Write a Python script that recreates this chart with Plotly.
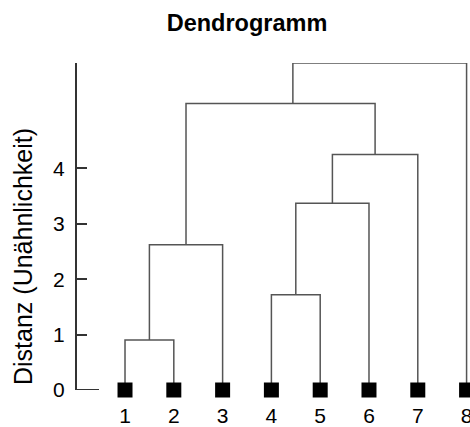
import plotly.graph_objects as go

# Leaves (order on x axis)
leaf_labels = ["1", "2", "3", "4", "5", "6", "7", "8"]
leaf_pos = [1, 2, 3, 4, 5, 6, 7, 8]

# Merges: (left node, right node, height); nodes 0-7 are leaves, 8+ are clusters
merge_left = [0, 3, 8, 9, 11, 10, 13]
merge_right = [1, 4, 2, 5, 6, 12, 7]
merge_height = [0.9, 1.72, 2.62, 3.37, 4.25, 5.17, 5.9]
# horizontal position of each cluster's stem
cluster_pos = [1.5, 4.5, 2.25, 5.25, 6.125, 4.44, 6.2]

y_ticks = [0, 1, 2, 3, 4]
y_title = "Distanz (Unähnlichkeit)"

LINK = "#555555"
AXIS = "#333333"
FONT = "Liberation Sans, Arial, Helvetica, sans-serif"

node_x = list(leaf_pos) + list(cluster_pos)
node_h = [0.0] * len(leaf_pos) + list(merge_height)

fig = go.Figure()
for l, r, h in zip(merge_left, merge_right, merge_height):
    fig.add_trace(go.Scatter(
        x=[node_x[l], node_x[l], node_x[r], node_x[r]],
        y=[node_h[l], h, h, node_h[r]],
        mode="lines", line=dict(color=LINK, width=1.5),
        hoverinfo="skip", showlegend=False, cliponaxis=False))

fig.add_trace(go.Scatter(
    x=leaf_pos, y=[0] * len(leaf_pos), mode="markers",
    marker=dict(symbol="square", size=15, color="black", line=dict(width=0)),
    showlegend=False, cliponaxis=False))

W, H = 470, 427
L, T, B = 77, 63, 37
PW, PH = W - L, H - T - B
fig.update_layout(
    width=W, height=H,
    margin=dict(l=L, r=0, t=T, b=B, autoexpand=False),
    paper_bgcolor="white", plot_bgcolor="white",
    font=dict(family=FONT, size=21, color="black"),
    title=dict(text="<b>Dendrogramm</b>", font=dict(size=23.5, family=FONT, color="black"),
               x=247 / W, xref="container", xanchor="center",
               y=1 - 23 / H, yref="container", yanchor="middle"),
    xaxis=dict(range=[0.016, 8.07], tickvals=leaf_pos, ticktext=leaf_labels,
               showgrid=False, zeroline=False, showline=False, ticks="",
               ticklabelstandoff=11, ticklabeloverflow="allow",
               tickfont=dict(size=21), fixedrange=True),
    yaxis=dict(range=[0, 5.9], tickvals=y_ticks, ticktext=[str(v) for v in y_ticks],
               showgrid=False, zeroline=False, showline=True, linecolor=AXIS,
               linewidth=2, ticks="inside", ticklen=10, tickwidth=1.5, tickcolor=AXIS,
               ticklabelstandoff=6, tickfont=dict(size=21), fixedrange=True),
    annotations=[dict(text=y_title, textangle=-90, showarrow=False,
                      xref="paper", yref="paper",
                      x=(23 - L) / PW, y=(T + PH - 257) / PH,
                      xanchor="center", yanchor="middle",
                      font=dict(size=25, family=FONT, color="black"))],
    shapes=[dict(type="line", xref="paper", yref="y", x0=0, x1=22 / PW, y0=0, y1=0,
                 line=dict(color=AXIS, width=2))],
)

fig.write_html("out.html")
